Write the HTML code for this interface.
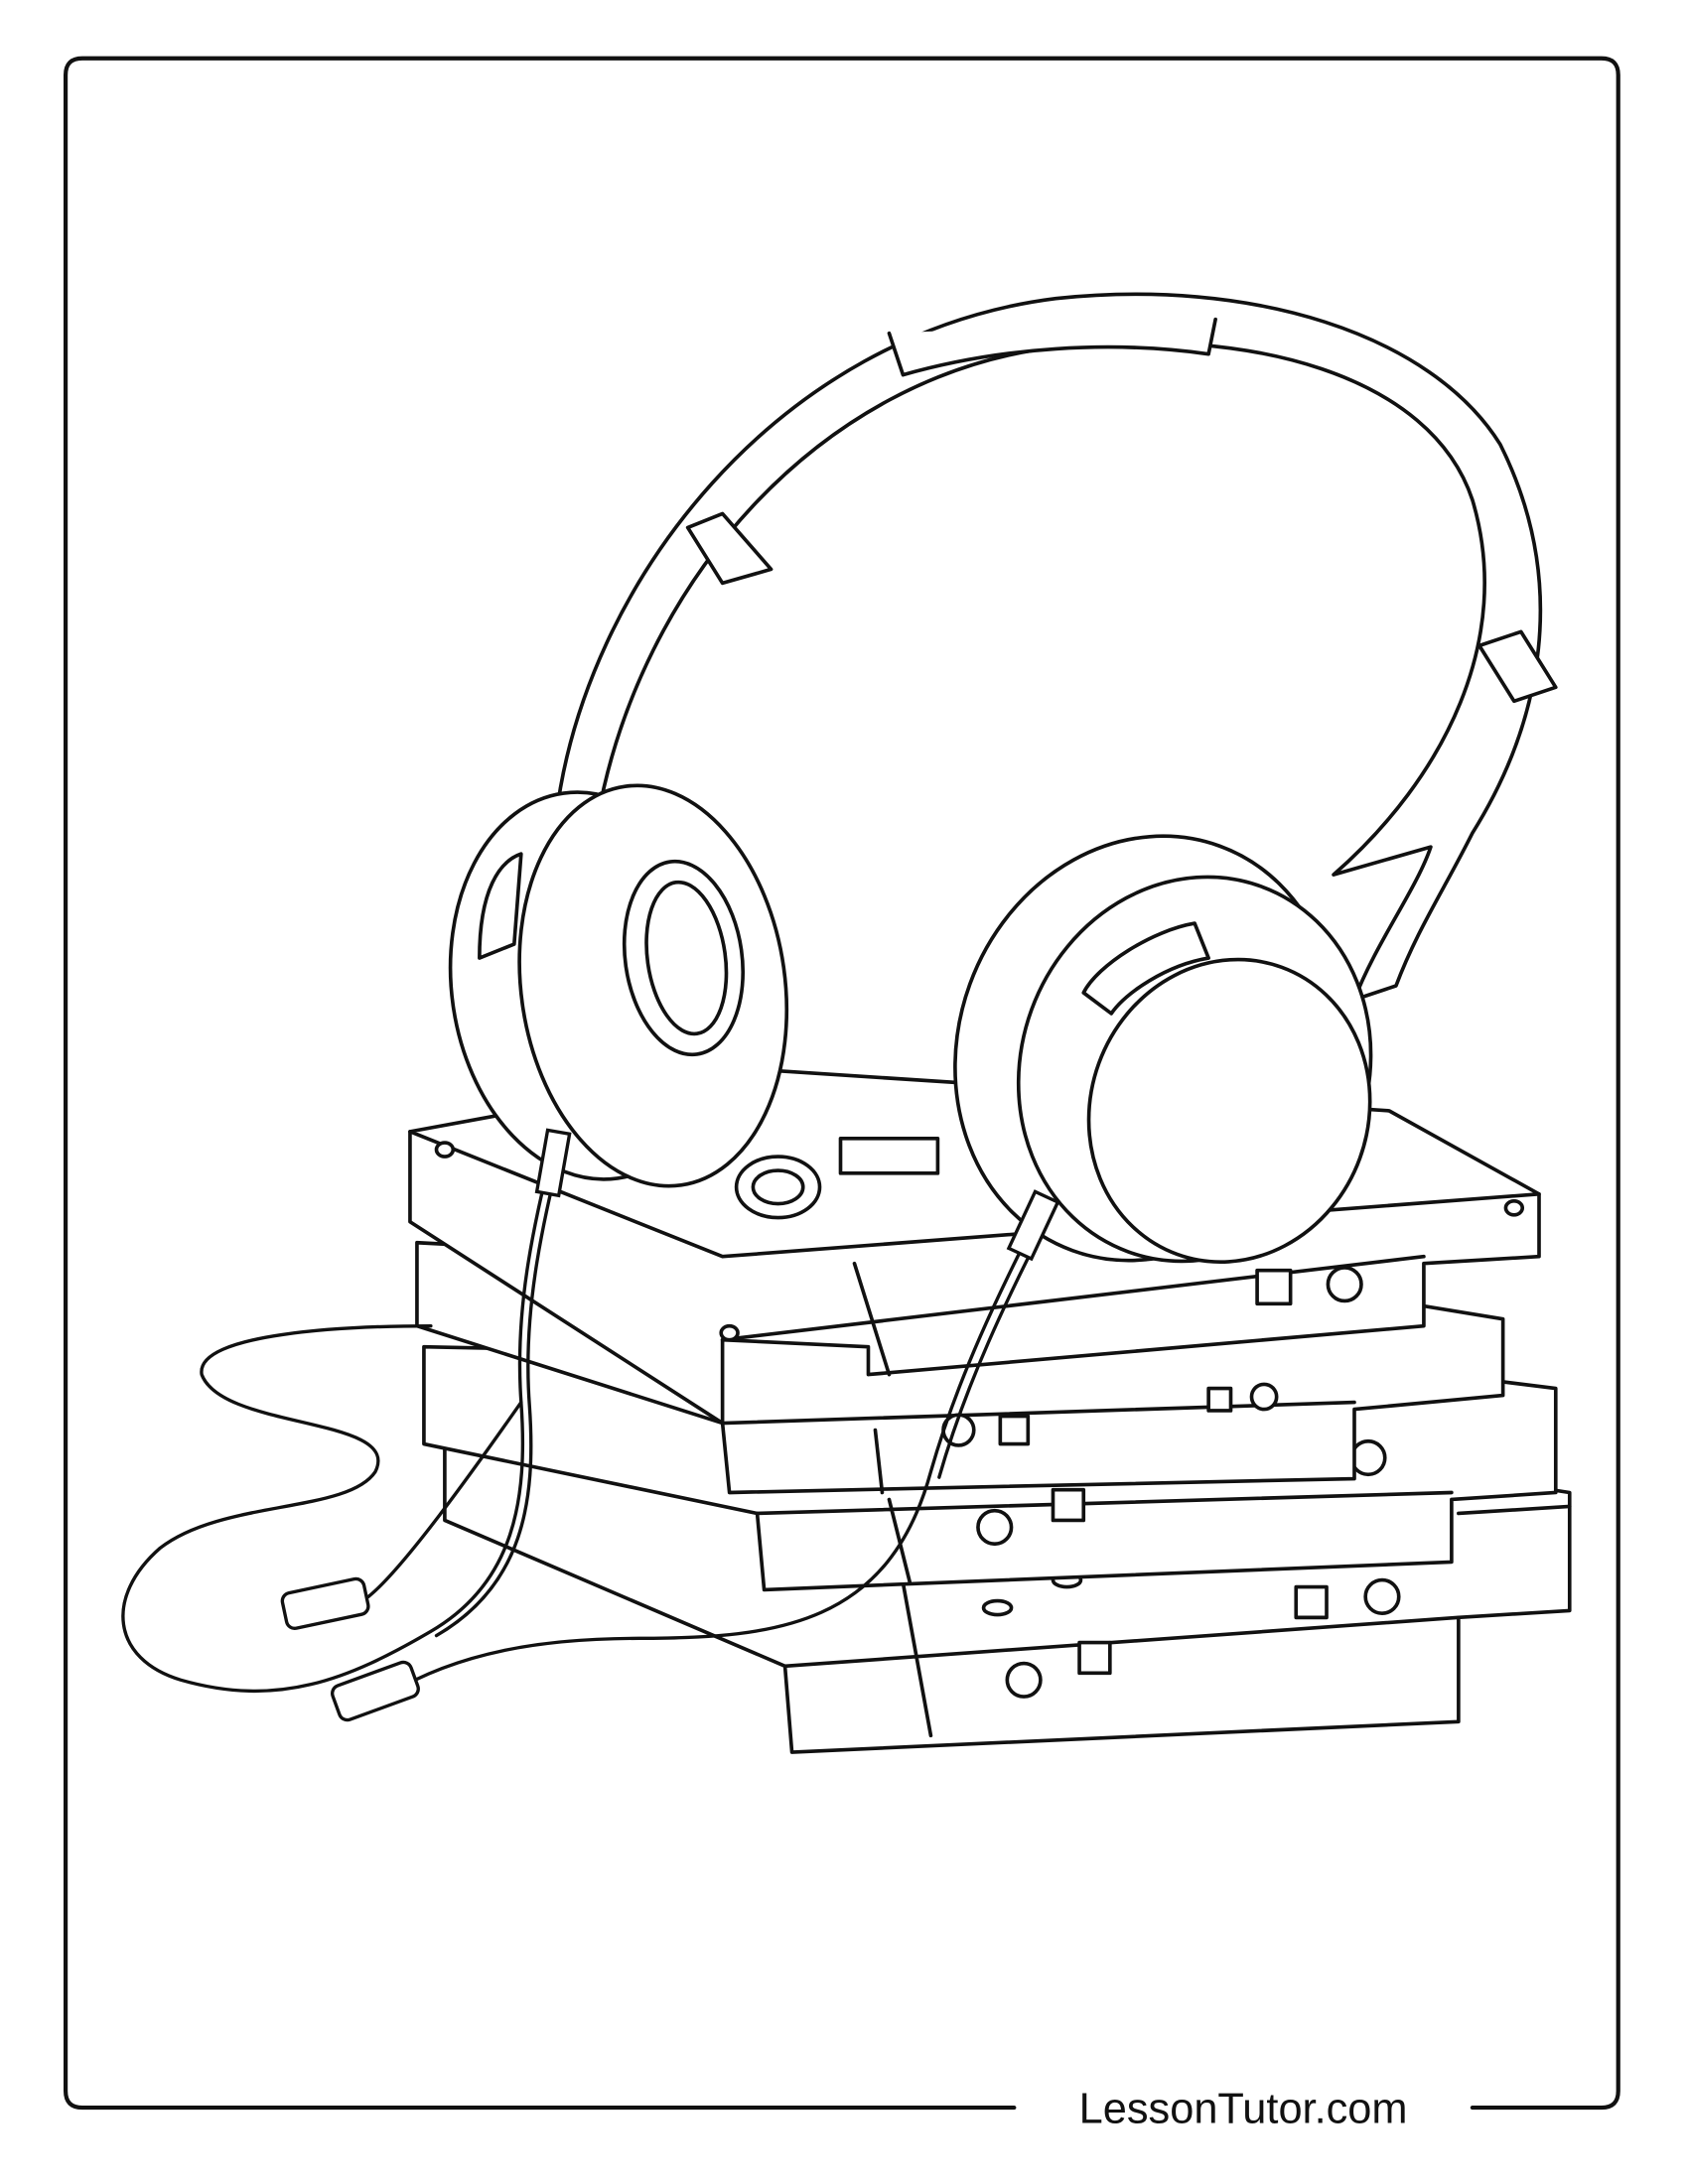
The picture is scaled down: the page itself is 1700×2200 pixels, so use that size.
<!DOCTYPE html>
<html><head><meta charset="utf-8"><style>
html,body{margin:0;padding:0;background:#fff}
svg{display:block}
</style></head><body>
<svg width="1700" height="2200" viewBox="0 0 1215 1573" xmlns="http://www.w3.org/2000/svg">
<g fill="none" stroke="#111" stroke-width="3" stroke-linejoin="round" stroke-linecap="round">
<!-- border -->
<path d="M730 1518 H59 Q47 1518 47 1506 V54 Q47 42 59 42 H1153 Q1165 42 1165 54 V1506 Q1165 1518 1153 1518 H1060"/>
</g>
<text x="895" y="1529" font-family="Liberation Sans, sans-serif" font-size="31" text-anchor="middle" fill="#111">LessonTutor.com</text>
<g fill="#fff" stroke="#111" stroke-width="2.6" stroke-linejoin="round" stroke-linecap="round">
<!-- cassettes (bottom to top) -->
<path d="M320 1040 L1000 1055 L1130 1075 L1130 1160 L1050 1165 L1050 1240 L570 1262 L565 1200 L320 1095 Z"/>
<path d="M565 1200 L1050 1165 M650 1140 L670 1250 M1050 1090 L1130 1085"/>
<ellipse cx="737" cy="1210" rx="12" ry="12"/><rect x="777" y="1183" width="22" height="22"/>
<ellipse cx="995" cy="1150" rx="12" ry="12"/><rect x="933" y="1143" width="22" height="22"/>
<ellipse cx="718" cy="1158" rx="10" ry="5"/><ellipse cx="768" cy="1138" rx="10" ry="5"/>
<path d="M305 970 L1000 985 L1120 1000 L1120 1075 L1045 1080 L1045 1125 L550 1145 L545 1090 L305 1040 Z"/>
<path d="M545 1090 L1045 1075 M640 1080 L655 1140"/>
<ellipse cx="716" cy="1100" rx="12" ry="12"/><rect x="758" y="1073" width="22" height="22"/>
<ellipse cx="985" cy="1050" rx="12" ry="12"/><rect x="922" y="1043" width="22" height="22"/>
<path d="M300 895 L960 930 L1082 950 L1082 1005 L975 1015 L975 1065 L525 1075 L520 1025 L300 955 Z"/>
<path d="M520 1025 L975 1010 M630 1030 L635 1075"/>
<rect x="720" y="1020" width="20" height="20"/><ellipse cx="690" cy="1030" rx="11" ry="11"/>
<rect x="870" y="1000" width="16" height="16"/><ellipse cx="910" cy="1006" rx="9" ry="9"/>
<path d="M295 815 L540 770 L1000 800 L1108 860 L1108 905 L1025 910 L1025 955 L625 990 L625 970 L520 965 L520 1025 L295 880 Z"/>
<path d="M520 965 L1025 905 M615 910 L640 990 M295 815 L520 905 L1108 860"/>
<ellipse cx="320" cy="828" rx="6" ry="5"/><ellipse cx="525" cy="960" rx="6" ry="5"/><ellipse cx="1090" cy="870" rx="6" ry="5"/>
<rect x="905" y="915" width="24" height="24"/><ellipse cx="968" cy="925" rx="12" ry="12"/>
<ellipse cx="560" cy="855" rx="30" ry="22"/><ellipse cx="560" cy="855" rx="18" ry="12"/>
<rect x="605" y="820" width="70" height="25"/>
<!-- headband -->
<path d="M400 590 C420 420 560 240 760 215 C900 200 1030 240 1080 320 C1130 420 1110 520 1060 600 C1040 640 1020 670 1005 710 L975 720 C990 680 1020 640 1030 610 L960 630 C1040 560 1090 460 1060 360 C1030 270 900 235 760 250 C590 270 460 420 430 590 Z"/>
<path d="M495 380 L520 370 L555 410 L520 420 Z M1065 465 L1095 455 L1120 495 L1090 505 Z M640 240 L650 270 C720 250 800 245 870 255 L875 230"/>
<!-- left ear cup -->
<ellipse cx="425" cy="710" rx="100" ry="140" transform="rotate(-8 425 710)"/>
<ellipse cx="470" cy="710" rx="95" ry="145" transform="rotate(-8 470 710)"/>
<ellipse cx="492" cy="690" rx="42" ry="70" transform="rotate(-8 492 690)"/>
<ellipse cx="494" cy="690" rx="28" ry="55" transform="rotate(-8 494 690)"/>
<path d="M345 690 C345 640 360 620 375 615 L370 680 Z"/>
<!-- right ear cup -->
<ellipse cx="825" cy="755" rx="135" ry="155" transform="rotate(20 825 755)"/>
<ellipse cx="860" cy="770" rx="125" ry="140" transform="rotate(20 860 770)"/>
<ellipse cx="885" cy="800" rx="100" ry="110" transform="rotate(20 885 800)"/>
<path d="M780 715 C790 695 830 670 860 665 L870 690 C840 695 810 715 800 730 Z"/>
</g>
<!-- cable -->
<g fill="none" stroke="#111" stroke-width="2.4" stroke-linecap="round">
<path d="M398 825 C385 880 370 940 375 1010 C380 1080 370 1140 310 1175 C250 1210 200 1230 130 1210 C80 1195 75 1150 115 1115 C160 1080 250 1090 270 1060 C290 1020 160 1030 145 990 C140 960 250 955 310 955"/>
<path d="M403 830 C390 885 376 945 381 1012 C386 1082 376 1142 314 1178"/>
<path d="M745 880 C720 930 690 990 670 1060 C640 1170 560 1180 460 1180 C390 1180 330 1190 280 1220"/>
<path d="M751 884 C726 934 696 994 676 1064"/>
<path d="M375 1010 C340 1060 290 1130 265 1150"/>
</g>
<g fill="#fff" stroke="#111" stroke-width="2.4">
<rect x="390" y="815" width="16" height="45" transform="rotate(10 398 838)"/>
<rect x="735" y="860" width="18" height="45" transform="rotate(25 744 882)"/>
<rect x="204" y="1142" width="60" height="26" rx="6" transform="rotate(-12 234 1155)"/>
<rect x="240" y="1205" width="60" height="26" rx="6" transform="rotate(-20 270 1218)"/>
</g>
</svg>
</body></html>
